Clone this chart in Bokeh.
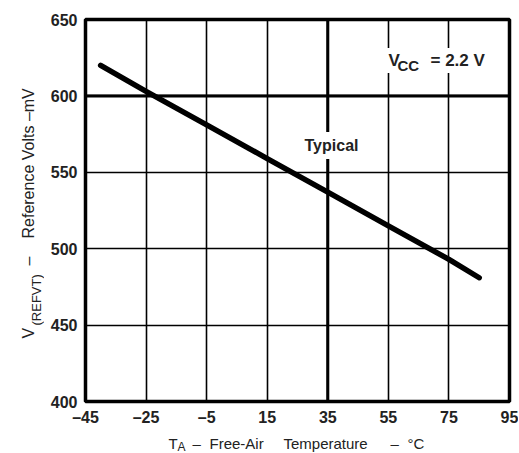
import math
from bokeh.plotting import figure
from bokeh.models import Range1d, FixedTicker, Span, Label
from bokeh.layouts import row, column
from bokeh.embed import file_html
from bokeh.resources import INLINE

# ---- data ----
temp_c = [-40, -25, -5, 15, 35, 55, 75, 85]
vref_mv = [620, 603, 581, 559, 537, 515, 493, 481]

x_ticks = [-45, -25, -5, 15, 35, 55, 75, 95]
x_tick_labels = ["\u201345", "\u201325", "\u20135", "15", "35", "55", "75", "95"]
y_ticks = [400, 450, 500, 550, 600, 650]
y_tick_labels = ["400", "450", "500", "550", "600", "650"]
heavy_x = 35
heavy_y = 600

FONT = "Liberation Sans"
TXT = "#222222"

X0, X1 = -45, 95
Y0, Y1 = 400, 650

# page layout (pixels)
TOTAL_W, TOTAL_H = 518, 452
YT_W = 44            # strip for the y-axis title
MAIN_H = 428         # main figure height
MAIN_W = TOTAL_W - YT_W
XT_H = TOTAL_H - MAIN_H
FR_L, FR_T = 85, 19  # frame position on the page
FR_W, FR_H = 424, 382

p = figure(width=MAIN_W, height=MAIN_H, output_backend="svg", toolbar_location=None,
           x_range=Range1d(X0, X1), y_range=Range1d(Y0, Y1),
           min_border_left=FR_L - YT_W, min_border_right=MAIN_W - (FR_L - YT_W) - FR_W,
           min_border_top=FR_T, min_border_bottom=MAIN_H - FR_T - FR_H)
p.frame_align = False
p.title.visible = False
p.background_fill_color = "white"
p.border_fill_color = "white"
p.outline_line_color = "black"
p.outline_line_width = 3.5

for ax, ticks, labels in ((p.xaxis[0], x_ticks, x_tick_labels), (p.yaxis[0], y_ticks, y_tick_labels)):
    ax.ticker = FixedTicker(ticks=ticks)
    ax.major_label_overrides = {t: l for t, l in zip(ticks, labels)}
    ax.axis_line_color = None
    ax.major_tick_line_color = None
    ax.major_tick_out = 0
    ax.major_tick_in = 0
    ax.minor_tick_line_color = None
    ax.minor_tick_out = 0
    ax.minor_tick_in = 0
    ax.major_label_text_font = FONT
    ax.major_label_text_font_style = "bold"
    ax.major_label_text_font_size = "16px"
    ax.major_label_text_color = TXT
    ax.axis_label = None
p.xaxis.major_label_standoff = 7
p.yaxis.major_label_standoff = 8

p.xgrid.ticker = FixedTicker(ticks=x_ticks)
p.ygrid.ticker = FixedTicker(ticks=y_ticks)
for g in (p.xgrid, p.ygrid):
    g.grid_line_color = "black"
    g.grid_line_width = 1.6
    g.grid_line_alpha = 1.0

p.add_layout(Span(location=heavy_x, dimension="height", line_color="black", line_width=3, level="underlay"))
p.add_layout(Span(location=heavy_y, dimension="width", line_color="black", line_width=3, level="underlay"))

p.line(temp_c, vref_mv, line_color="black", line_width=5.5, line_cap="round")

# page-pixel -> data helpers for in-plot text placement
SX = FR_W / (X1 - X0)
SY = FR_H / (Y1 - Y0)

def xd(px):
    return X0 + (px - FR_L) / SX

def yd(py):
    return Y1 - (py - FR_T) / SY

def text_label(fig, text, x, y, size, bold=False, angle=0.0, align="left", bg=False, pad=0):
    kw = {}
    if bg:
        kw = dict(background_fill_color="white", background_fill_alpha=1.0, padding=pad)
    fig.add_layout(Label(x=x, y=y, text=text, text_font=FONT,
                         text_font_size=f"{size}px", text_font_style="bold" if bold else "normal",
                         text_color=TXT, text_align=align, text_baseline="alphabetic",
                         angle=angle, angle_units="rad", **kw))

# in-plot annotations
text_label(p, "Typical", xd(331), yd(145), 16, bold=True, align="center", bg=True, pad=5)
text_label(p, "V", xd(385), yd(60), 17, bold=True, bg=True, pad=3)
text_label(p, "CC", xd(397), yd(65), 15, bold=True)
text_label(p, "= 2.2 V", xd(427), yd(60), 17, bold=True, bg=True, pad=3)

# strip figures for the axis titles (their own frames, page-pixel ranges)
def strip(w, h, x0, y0):
    f = figure(width=w, height=h, output_backend="svg", toolbar_location=None,
               x_range=Range1d(x0, x0 + w), y_range=Range1d(y0 + h, y0),
               x_axis_type=None, y_axis_type=None,
               min_border=0, min_border_left=0, min_border_right=0,
               min_border_top=0, min_border_bottom=0)
    f.title.visible = False
    f.frame_align = False
    f.outline_line_color = None
    f.background_fill_color = "white"
    f.border_fill_color = "white"
    return f

xt = strip(MAIN_W, XT_H, YT_W, MAIN_H)
text_label(xt, "T", 168, 443, 15)
text_label(xt, "A", 177, 446, 12)
text_label(xt, "\u2013", 192, 443, 15)
text_label(xt, "Free-Air", 209, 443, 15)
text_label(xt, "Temperature", 283, 443, 15)
text_label(xt, "\u2013", 390, 443, 15)
text_label(xt, "\u00b0C", 407, 443, 15)

yt = strip(YT_W, TOTAL_H, 0, 0)
R = math.pi / 2
text_label(yt, "V", 28, 338, 16, angle=R)
text_label(yt, "(REFVT)", 36, 325, 13, angle=R)
text_label(yt, "\u2013", 28, 265, 16, angle=R)
text_label(yt, "Reference Volts \u2013mV", 28, 238, 16, angle=R)

layout = row(yt, column(p, xt, spacing=0), spacing=0)

open("out.html", "w").write(file_html(layout, INLINE))
